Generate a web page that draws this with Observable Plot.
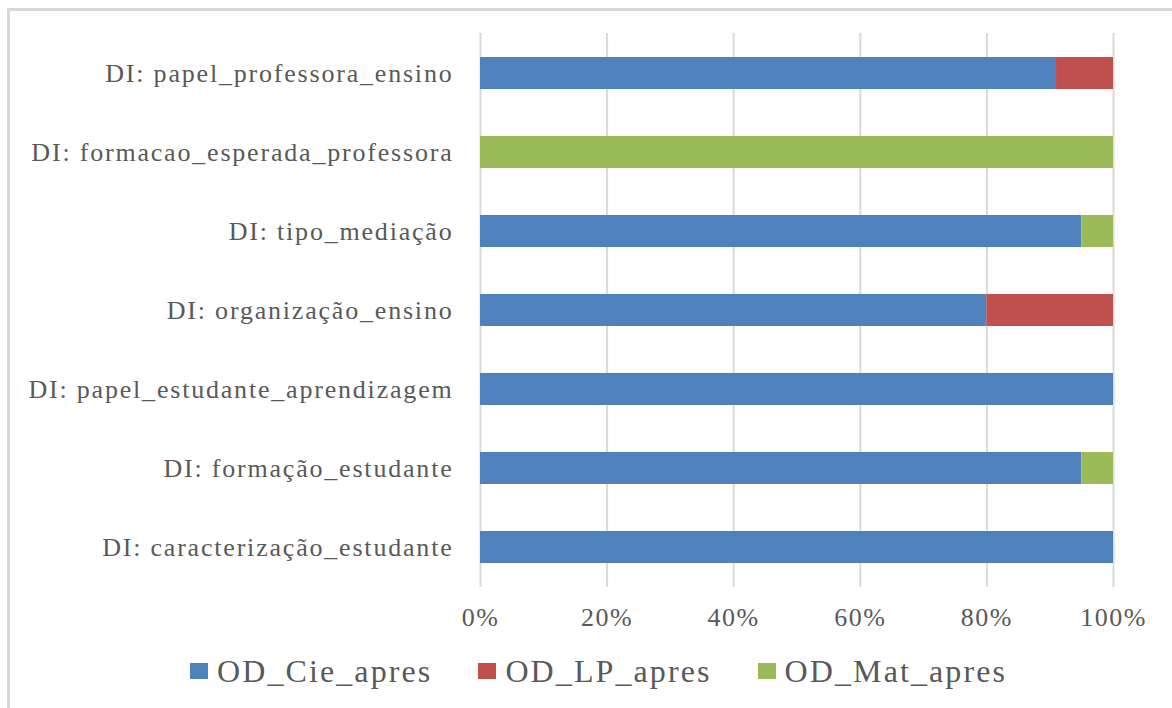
<!DOCTYPE html>
<html>
<head>
<meta charset="utf-8">
<script src="https://cdn.jsdelivr.net/npm/d3@7"></script>
<script src="https://cdn.jsdelivr.net/npm/@observablehq/plot@0.6"></script>
<style>
  html, body { margin: 0; padding: 0; background: #fff; width: 1172px; height: 708px; overflow: hidden; position: relative; }
  #frame { position: absolute; left: 7px; top: 8px; width: 1200px; height: 760px; border-left: 3px solid #d9d9d9; border-top: 3px solid #d9d9d9; box-sizing: border-box; }
  #chart { position: absolute; left: 0; top: 0; }
  #chart svg text { letter-spacing: 1.5px; }
  #chart svg g[aria-label="y-axis tick label"] text { letter-spacing: 1.8px; }
  #legend { position: absolute; left: 190px; top: 655px; height: 32px; display: flex; align-items: center; font-family: 'Liberation Serif'; font-size: 32px; color: #595959; letter-spacing: 2.1px; white-space: nowrap; }
  .item { display: flex; align-items: center; margin-right: 46px; }
  .sw { width: 18px; height: 16px; margin-right: 9px; }
</style>
</head>
<body>
<div id="frame"></div>
<div id="chart"></div>
<div id="legend"></div>
<script>
const categories = [
  "DI: papel_professora_ensino",
  "DI: formacao_esperada_professora",
  "DI: tipo_mediação",
  "DI: organização_ensino",
  "DI: papel_estudante_aprendizagem",
  "DI: formação_estudante",
  "DI: caracterização_estudante"
];
const seriesNames = ["OD_Cie_apres", "OD_LP_apres", "OD_Mat_apres"];
const seriesColors = ["#4F81BD", "#C0504D", "#9BBB59"];
const cieValues = [91, 0, 95, 80, 100, 95, 100];
const lpValues  = [9, 0, 0, 20, 0, 0, 0];
const matValues = [0, 100, 5, 0, 0, 5, 0];
const xTicks = [0, 20, 40, 60, 80, 100];

const valueLists = [cieValues, lpValues, matValues];
const data = [];
seriesNames.forEach((s, si) => {
  categories.forEach((c, ci) => {
    const v = valueLists[si][ci];
    if (v > 0) data.push({category: c, series: s, value: v});
  });
});

const chart = Plot.plot({
  width: 1172,
  height: 640,
  marginTop: 33,
  marginBottom: 53,
  marginLeft: 480,
  marginRight: 59,
  style: {fontFamily: "Liberation Serif", fontSize: "26px", color: "#595959", background: "transparent"},
  x: {domain: [0, 100]},
  y: {domain: categories, paddingInner: 0.6, paddingOuter: 0.3},
  color: {domain: seriesNames, range: seriesColors},
  marks: [
    Plot.gridX({ticks: xTicks, stroke: "#d9d9d9", strokeOpacity: 1, strokeWidth: 2}),
    Plot.barX(data, {x: "value", y: "category", fill: "series", order: seriesNames}),
    Plot.axisX({ticks: xTicks, tickSize: 0, tickPadding: 20, tickFormat: d => d + "%", label: null, fontFamily: "Liberation Serif"}),
    Plot.axisY({tickSize: 0, tickPadding: 27, label: null, fontFamily: "Liberation Serif"})
  ]
});
document.getElementById("chart").appendChild(chart);

const legend = document.getElementById("legend");
seriesNames.forEach((s, i) => {
  const item = document.createElement("div");
  item.className = "item";
  const sw = document.createElement("div");
  sw.className = "sw";
  sw.style.background = seriesColors[i];
  const t = document.createElement("span");
  t.textContent = s;
  item.appendChild(sw);
  item.appendChild(t);
  legend.appendChild(item);
});
</script>
</body>
</html>
